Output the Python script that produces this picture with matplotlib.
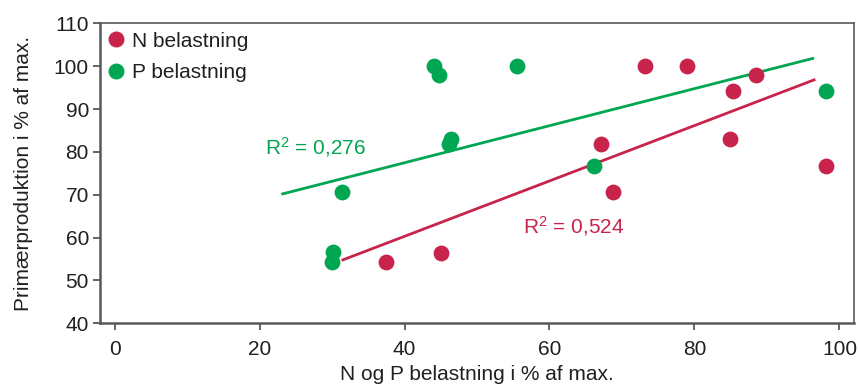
import matplotlib
matplotlib.use("Agg")
import matplotlib.pyplot as plt
from matplotlib.lines import Line2D

plt.rcParams['font.family'] = ['Liberation Sans', 'DejaVu Sans']
plt.rcParams['mathtext.fontset'] = 'custom'
plt.rcParams['mathtext.rm'] = 'Liberation Sans'
plt.rcParams['mathtext.it'] = 'Liberation Sans'

# Data
n_x = [73.2, 78.9, 88.5, 85.3, 67.1, 84.9, 98.1, 68.7, 37.5, 45.0]
n_y = [100.0, 100.0, 97.9, 94.2, 81.8, 82.9, 76.8, 70.6, 54.2, 56.5]
p_x = [44.0, 44.7, 55.5, 46.4, 46.2, 66.2, 98.1, 31.4, 30.2, 30.0]
p_y = [100.0, 97.9, 100.0, 82.9, 81.8, 76.8, 94.2, 70.6, 56.6, 54.2]
n_trend_x = [31.5, 96.5]
n_trend_y = [54.8, 96.8]
p_trend_x = [23.2, 96.3]
p_trend_y = [70.2, 101.8]
x_ticks = [0, 20, 40, 60, 80, 100]
y_ticks = [40, 50, 60, 70, 80, 90, 100, 110]

red = '#C8234B'
green = '#00A651'
txt = '#231F20'
spine = '#58595B'
fs = 15

fig = plt.figure(figsize=(8.6, 3.87), dpi=100)
ax = fig.add_axes([0.1163, 0.1646, 0.993 - 0.1163, 0.9398 - 0.1646])

ax.plot(p_trend_x, p_trend_y, color=green, lw=2.0, zorder=2)
ax.plot(n_trend_x, n_trend_y, color=red, lw=2.0, zorder=2)
ax.scatter(p_x, p_y, s=130, color=green, zorder=3, linewidths=0)
ax.scatter(n_x, n_y, s=130, color=red, zorder=3, linewidths=0)

ax.text(20.8, 81.1, 'R$^{2}$ = 0,276', color=green, fontsize=fs, va='center', ha='left')
ax.text(56.3, 62.8, 'R$^{2}$ = 0,524', color=red, fontsize=fs, va='center', ha='left')

ax.set_xlim(-2, 102)
ax.set_ylim(40, 110)
ax.set_xticks(x_ticks)
ax.set_yticks(y_ticks)
ax.tick_params(axis='both', labelsize=fs, colors=txt, length=5, width=1.3, color=spine, pad=3)
ax.tick_params(axis='x', pad=7)
for s in ['left', 'bottom']:
    ax.spines[s].set_linewidth(1.8)
    ax.spines[s].set_color(spine)
for s in ['top', 'right']:
    ax.spines[s].set_linewidth(1.2)
    ax.spines[s].set_color(spine)

ax.set_xlabel('N og P belastning i % af max.', fontsize=fs, color=txt, labelpad=4)
ax.set_ylabel('Primærproduktion i % af max.', fontsize=fs, color=txt, labelpad=15)

handles = [Line2D([], [], marker='o', ls='', color=red, markersize=11.5, markeredgewidth=0),
           Line2D([], [], marker='o', ls='', color=green, markersize=11.5, markeredgewidth=0)]
leg = ax.legend(handles, ['N belastning', 'P belastning'], loc='upper left', frameon=False,
                fontsize=fs, handletextpad=0.3, handlelength=1.0, borderaxespad=0.0,
                borderpad=0.25, labelspacing=0.6, bbox_to_anchor=(0.0, 0.99))
for t in leg.get_texts():
    t.set_color(txt)

fig.savefig('out.png', dpi=100)
